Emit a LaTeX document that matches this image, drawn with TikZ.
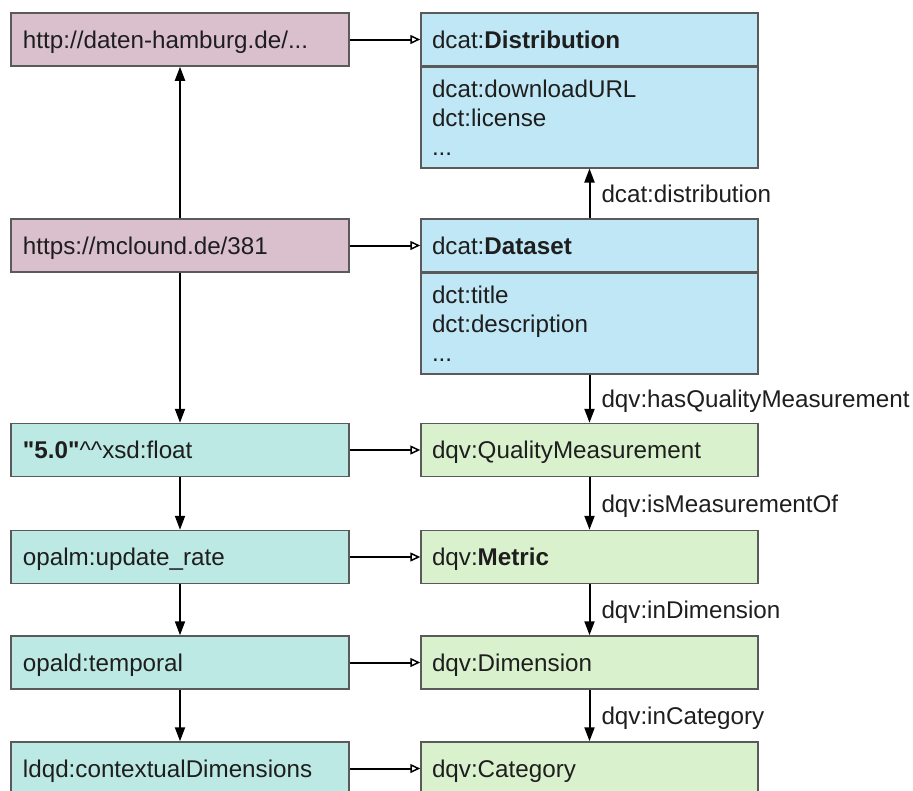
\documentclass[tikz,border=0pt]{standalone}
\usepackage{fontspec}
\setmainfont{Liberation Sans}[Ligatures=TeXOff]
\usetikzlibrary{arrows.meta}
\definecolor{pinkfill}{HTML}{DAC0CC}
\definecolor{bluefill}{HTML}{BFE7F5}
\definecolor{tealfill}{HTML}{BCE9E3}
\definecolor{greenfill}{HTML}{D9F2CD}
\definecolor{bordercol}{HTML}{5A5A5A}
\definecolor{textcol}{HTML}{1E1E1E}
\tikzset{
  basebox/.style={draw=bordercol, line width=1.5pt, inner ysep=0pt, align=left, minimum height=53pt},
  lbox/.style={basebox, text width=314pt, inner xsep=12pt, text height=17.5pt, text depth=0pt},
  rbox/.style={basebox, text width=315pt, inner xsep=11pt, text height=17.5pt, text depth=0pt},
  rbody/.style={basebox, text width=315pt, inner xsep=11pt, minimum height=101pt, anchor=north},
  harrow/.style={line width=2pt, draw=black, -{Triangle[open, fill=white, length=10pt, width=9pt, line width=1.5pt]}},
  varrow/.style={line width=2pt, draw=black, -{Triangle[length=14pt, width=10pt]}},
  lbl/.style={midway, anchor=west, xshift=11pt, inner sep=0pt, text height=17.5pt, text depth=0pt, text=textcol}
}
\begin{document}
\begin{tikzpicture}[x=1pt, y=-1pt, font=\fontsize{24.2}{29}\selectfont, text=textcol]
\useasboundingbox (0,0) rectangle (913,790);
\clip (0,0) rectangle (913,790);

% left column
\node[lbox, fill=pinkfill] (p1) at (180,39.5) {http://daten-hamburg.de/...};
\node[lbox, fill=pinkfill] (p2) at (180,245.5) {https://mclound.de/381};
\node[lbox, fill=tealfill] (t1) at (180,450) {\textbf{"5.0"}\textasciicircum\textasciicircum xsd:float};
\node[lbox, fill=tealfill] (t2) at (180,557) {opalm:update\_rate};
\node[lbox, fill=tealfill] (t3) at (180,662.5) {opald:temporal};
\node[lbox, fill=tealfill] (t4) at (180,768.5) {ldqd:contextualDimensions};

% right column
\node[rbox, fill=bluefill] (dh) at (589.5,39.5) {dcat:\textbf{Distribution}};
\node[rbody, fill=bluefill] (db) at (589.5,66) {dcat:downloadURL\\dct:license\\...};
\node[rbox, fill=bluefill] (sh) at (589.5,245.5) {dcat:\textbf{Dataset}};
\node[rbody, fill=bluefill] (sb) at (589.5,272) {dct:title\\dct:description\\...};
\node[rbox, fill=greenfill] (g1) at (589.5,450) {dqv:QualityMeasurement};
\node[rbox, fill=greenfill] (g2) at (589.5,557) {dqv:\textbf{Metric}};
\node[rbox, fill=greenfill] (g3) at (589.5,662.5) {dqv:Dimension};
\node[rbox, fill=greenfill] (g4) at (589.5,768.5) {dqv:Category};

% horizontal type arrows
\draw[harrow] (p1) -- (dh);
\draw[harrow] (p2) -- (sh);
\draw[harrow] (t1) -- (g1);
\draw[harrow] (t2) -- (g2);
\draw[harrow] (t3) -- (g3);
\draw[harrow] (t4) -- (g4);

% left vertical arrows
\draw[varrow] (p2) -- (p1);
\draw[varrow] (p2) -- (t1);
\draw[varrow] (t1) -- (t2);
\draw[varrow] (t2) -- (t3);
\draw[varrow] (t3) -- (t4);

% right vertical arrows
\draw[varrow] (sh) -- node[lbl] {dcat:distribution} (db);
\draw[varrow] (sb) -- node[lbl] {dqv:hasQualityMeasurement} (g1);
\draw[varrow] (g1) -- node[lbl] {dqv:isMeasurementOf} (g2);
\draw[varrow] (g2) -- node[lbl] {dqv:inDimension} (g3);
\draw[varrow] (g3) -- node[lbl] {dqv:inCategory} (g4);
\end{tikzpicture}
\end{document}
